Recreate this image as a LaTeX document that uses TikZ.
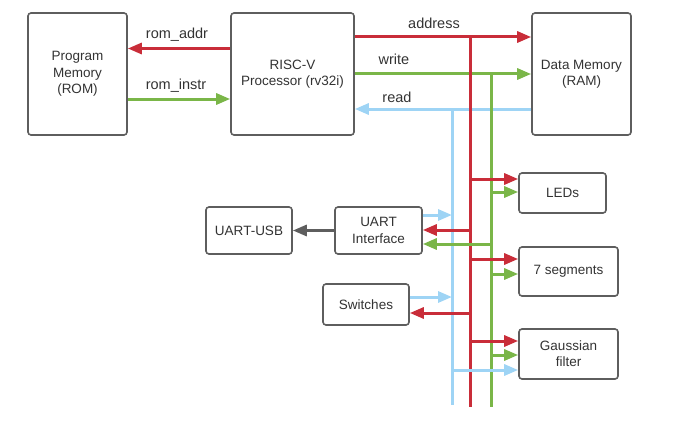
\documentclass[tikz,border=0pt]{standalone}
\usepackage{fontspec}
\setmainfont{Liberation Sans}
\usetikzlibrary{arrows.meta}

\definecolor{busred}{HTML}{C92D39}
\definecolor{busgreen}{HTML}{7AB648}
\definecolor{busblue}{HTML}{9ED4F5}
\definecolor{boxgray}{HTML}{5E5E5E}
\definecolor{txtgray}{HTML}{333333}

\tikzset{
  block/.style={draw=boxgray, line width=1.6pt, rounded corners=3pt, fill=white,
    align=center, text=txtgray, font=\fontsize{13.5}{16.3}\selectfont, inner sep=0pt},
  sig/.style={line width=3pt, -{Triangle[length=14pt,width=11pt]}},
  wire/.style={line width=3pt},
  lbl/.style={text=txtgray, font=\fontsize{14.5}{16}\selectfont, inner sep=0pt}
}

\begin{document}
\begin{tikzpicture}[x=1pt, y=-1pt]
  \useasboundingbox (0,0) rectangle (680,428);

  % main blocks
  \node[block, minimum width=99pt, minimum height=122pt] (rom) at (77.5,74) {Program\\Memory\\(ROM)};
  \node[block, minimum width=123pt, minimum height=122pt] (cpu) at (292.5,74) {RISC-V\\Processor (rv32i)};
  \node[block, minimum width=99pt, minimum height=122pt] (ram) at (581.5,74) {Data Memory\\(RAM)};

  % peripherals
  \node[block, minimum width=87pt, minimum height=40pt] (leds) at (562.5,193) {LEDs};
  \node[block, minimum width=99pt, minimum height=49pt] (seg) at (568.5,271.5) {7 segments};
  \node[block, minimum width=99pt, minimum height=50pt] (gauss) at (568.5,354) {Gaussian\\filter};
  \node[block, minimum width=86pt, minimum height=47pt] (usb) at (249,230.5) {UART-USB};
  \node[block, minimum width=87pt, minimum height=47pt] (uart) at (378.5,230.5) {UART\\Interface};
  \node[block, minimum width=86pt, minimum height=41pt] (sw) at (366,304.5) {Switches};

  % bus ends
  \coordinate (rtop) at (470,37);
  \coordinate (rbot) at (470,407);
  \coordinate (gtop) at (491,74);
  \coordinate (gbot) at (491,407);
  \coordinate (btop) at (452,109);
  \coordinate (bbot) at (452,405);

  % rom side
  \draw[sig, busred] (cpu.west |- 0,48.5) -- (rom.east |- 0,48.5);
  \draw[sig, busgreen] (rom.east |- 0,99) -- (cpu.west |- 0,99);
  \node[lbl] (romaddr) at (177,35) {rom\_addr};
  \node[lbl] (rominstr) at (176,86) {rom\_instr};

  % ram side
  \draw[sig, busred] (cpu.east |- rtop) -- (ram.west |- rtop);
  \draw[sig, busgreen] (cpu.east |- gtop) -- (ram.west |- gtop);
  \draw[sig, busblue] (ram.west |- btop) -- (cpu.east |- btop);
  \node[lbl] (addr) at (434,23) {address};
  \node[lbl] (wr) at (394,59) {write};
  \node[lbl] (rd) at (397,97) {read};

  % vertical buses
  \draw[wire, busblue] (btop) -- (bbot);
  \draw[wire, busred] (rtop) -- (rbot);
  \draw[wire, busgreen] (gtop) -- (gbot);

  % LEDs
  \draw[sig, busred] (rtop |- 0,179) -- (leds.west |- 0,179);
  \draw[sig, busgreen] (gtop |- 0,192) -- (leds.west |- 0,192);

  % UART
  \draw[sig, busblue] (uart.east |- 0,215) -- (btop |- 0,215);
  \draw[sig, busred] (rtop |- 0,230) -- (uart.east |- 0,230);
  \draw[sig, busgreen] (gtop |- 0,244) -- (uart.east |- 0,244);
  \draw[sig, boxgray] (uart.west) -- (usb.east);

  % 7 segments
  \draw[sig, busred] (rtop |- 0,259) -- (seg.west |- 0,259);
  \draw[sig, busgreen] (gtop |- 0,274) -- (seg.west |- 0,274);

  % switches
  \draw[sig, busblue] (sw.east |- 0,297) -- (btop |- 0,297);
  \draw[sig, busred] (rtop |- 0,313) -- (sw.east |- 0,313);

  % gaussian filter
  \draw[sig, busred] (rtop |- 0,341) -- (gauss.west |- 0,341);
  \draw[sig, busgreen] (gtop |- 0,355) -- (gauss.west |- 0,355);
  \draw[sig, busblue] (btop |- 0,370) -- (gauss.west |- 0,370);
\end{tikzpicture}
\end{document}
